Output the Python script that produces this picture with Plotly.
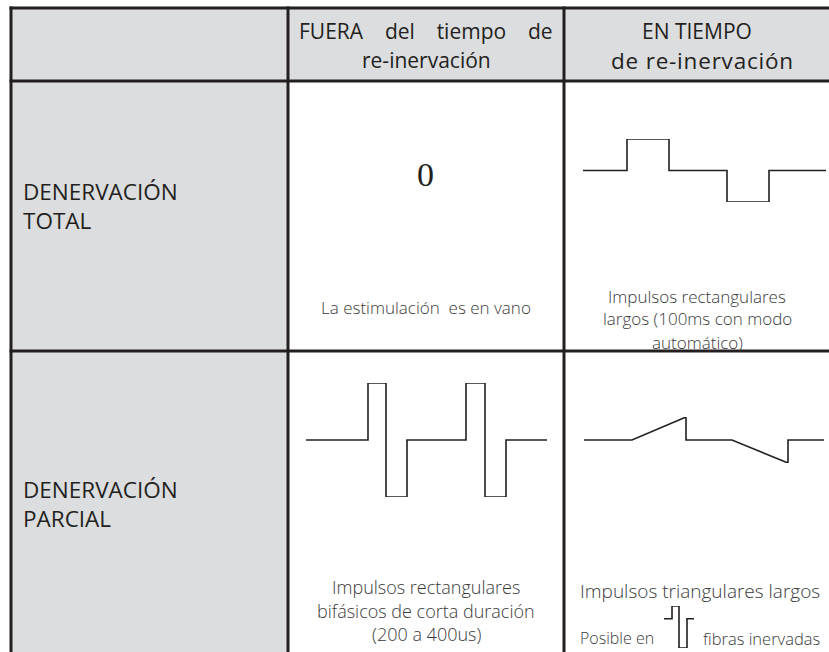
import plotly.graph_objects as go

W, H = 829, 652

# ---------------- data ----------------
col_header_fuera = ["FUERA\u00a0\u00a0\u00a0 del\u00a0\u00a0\u00a0 tiempo\u00a0\u00a0\u00a0 de", "re-inervación"]
col_header_en = ["EN TIEMPO", "de re-inervación"]
row_header_total = ["DENERVACIÓN", "TOTAL"]
row_header_parcial = ["DENERVACIÓN", "PARCIAL"]
cell_zero = "0"
cell_total_fuera = "La estimulación\u00a0 es en vano"
cell_total_en = ["Impulsos rectangulares", "largos (100ms con modo", "automático)"]
cell_parcial_fuera = ["Impulsos rectangulares", "bifásicos de corta duración", "(200 a 400us)"]
cell_parcial_en = "Impulsos triangulares largos"
posible_left = "Posible en"
posible_right = "fibras inervadas"

# waveforms: time (arbitrary units) and amplitude
long_rect_t = [0, 44, 44, 86, 86, 144, 144, 186, 186, 243]
long_rect_a = [0, 0, 1, 1, 0, 0, -1, -1, 0, 0]

biphasic_t = [0, 62, 62, 80, 80, 101, 101, 160, 160, 179, 179, 200, 200, 241]
biphasic_a = [0, 0, 1, 1, -1, -1, 0, 0, 1, 1, -1, -1, 0, 0]

triang_t = [0, 48, 102, 102, 148, 204, 204, 240]
triang_a = [0, 0, 1, 0, 0, -1, 0, 0]

small_t = [0, 8, 8, 15, 15, 23, 23, 30]
small_a = [0, 0, 1, 1, -2.3, -2.3, 0, 0]

# ---------------- layout helpers ----------------
def px(x):
    return x / W

def py(y):
    return 1 - y / H

LINE = "#231f20"
GRAY = "#dcdddf"
TXT = "#231f20"
BODY = "#3a3a3a"

col_edges = [11, 288, 564, 840]
row_edges = [8, 81, 351, 660]

fig = go.Figure()

shapes = []
shapes.append(dict(type="rect", xref="paper", yref="paper", x0=px(col_edges[0]), x1=px(col_edges[3]),
                   y0=py(row_edges[0]), y1=py(row_edges[1]), fillcolor=GRAY, line_width=0, layer="below"))
shapes.append(dict(type="rect", xref="paper", yref="paper", x0=px(col_edges[0]), x1=px(col_edges[1]),
                   y0=py(row_edges[1]), y1=py(row_edges[3]), fillcolor=GRAY, line_width=0, layer="below"))
for x in col_edges[:3]:
    shapes.append(dict(type="line", xref="paper", yref="paper", x0=px(x), x1=px(x),
                       y0=py(row_edges[0] - 1.5), y1=py(row_edges[3]), line=dict(color=LINE, width=3)))
for y in row_edges[:3]:
    shapes.append(dict(type="line", xref="paper", yref="paper", x0=px(col_edges[0] - 1.5), x1=px(col_edges[3]),
                       y0=py(y), y1=py(y), line=dict(color=LINE, width=3)))

annotations = []

def text(t, x, y, size, color=TXT, family="Open Sans", weight=400, xanchor="center", align="center"):
    annotations.append(dict(text=t, x=px(x), y=py(y), xref="paper", yref="paper", showarrow=False,
                            xanchor=xanchor, yanchor="middle", align=align,
                            font=dict(size=size, color=color, family=family, weight=weight)))

# headers
text(col_header_fuera[0], 426, 31, 21)
text(col_header_fuera[1], 426, 60, 21)
text(col_header_en[0], 697, 31, 21)
text('<span style="letter-spacing:0.8px">' + col_header_en[1] + '</span>', 702, 60, 22.5)
text("<br>".join(row_header_total), 21, 206, 22.5, xanchor="left", align="left")
text("<br>".join(row_header_parcial), 21, 504, 22.5, xanchor="left", align="left")

# cells
text(cell_zero, 425, 174, 34, family="Liberation Serif")
text(cell_total_fuera, 426, 308, 17, color=BODY, weight=300)
for k, line in enumerate(cell_total_en):
    text(line, 697, 296 + 23 * k, 17, color=BODY, weight=300)
for k, line in enumerate(cell_parcial_fuera):
    text(line, 426, 587 + 23.5 * k, 18, color=BODY, weight=300)
text(cell_parcial_en, 700, 591, 19, color=BODY, weight=300)
text(posible_left, 656, 638, 16, color=BODY, weight=300, xanchor="right")
text(posible_right, 701, 638, 16.5, color=BODY, weight=300, xanchor="left")

# waveform axes (each in its own domain)
waves = [
    (long_rect_t, long_rect_a, (583, 826), (202, 139), [-1, 1]),
    (biphasic_t, biphasic_a, (306, 547), (497, 383), [-1, 1]),
    (triang_t, triang_a, (584, 824), (463, 417), [-1, 1]),
    (small_t, small_a, (664, 694), (648, 606), [-2.3, 1]),
]
layout_axes = {}
for i, (t, a, (xa, xb), (ya, yb), yr) in enumerate(waves, start=1):
    xname = f"x{i}"
    yname = f"y{i}"
    fig.add_trace(go.Scatter(x=t, y=a, mode="lines", xaxis=xname, yaxis=yname,
                             line=dict(color=LINE, width=1.6), hoverinfo="skip", showlegend=False))
    layout_axes[f"xaxis{i}"] = dict(domain=[px(xa), px(xb)], range=[min(t), max(t)], visible=False,
                                    anchor=yname, fixedrange=True)
    layout_axes[f"yaxis{i}"] = dict(domain=[py(ya), py(yb)], range=yr, visible=False,
                                    anchor=xname, fixedrange=True)

fig.update_layout(
    width=W, height=H,
    margin=dict(l=0, r=0, t=0, b=0),
    paper_bgcolor="white", plot_bgcolor="rgba(0,0,0,0)",
    shapes=shapes, annotations=annotations, showlegend=False,
    **layout_axes,
)

fig.write_html("out.html", config={"displayModeBar": False},
               post_script="document.body.style.margin='0';document.body.style.overflow='hidden';")
